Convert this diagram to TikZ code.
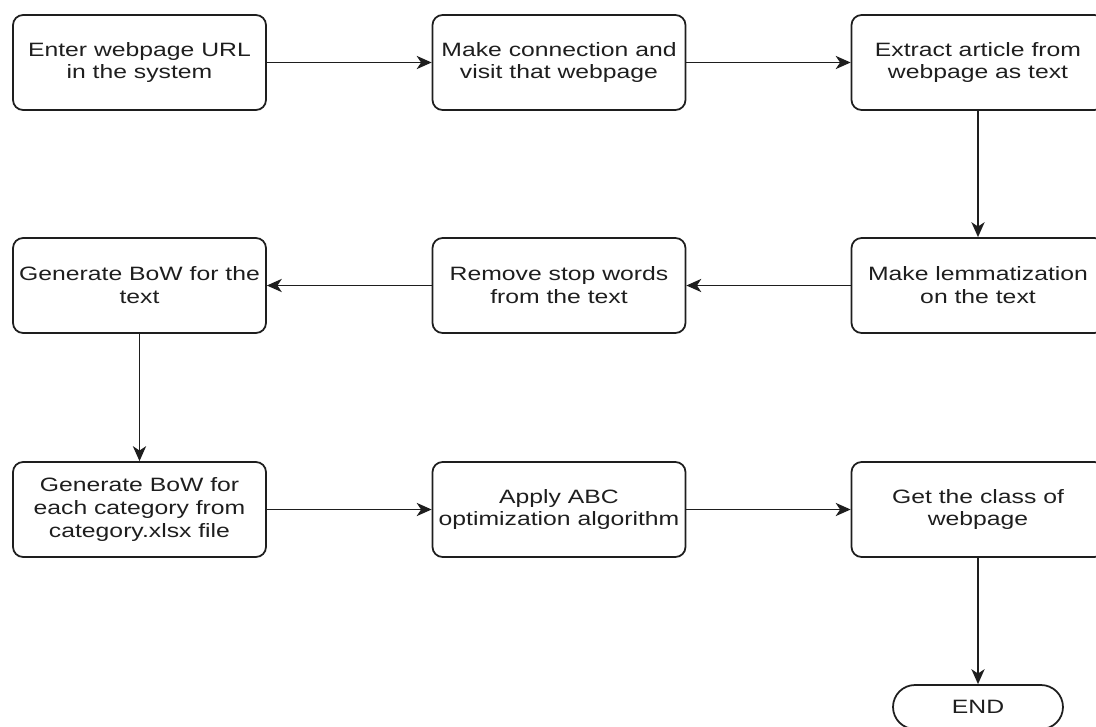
\documentclass[tikz,border=0pt]{standalone}
\usepackage{fontspec}
\setmainfont[FakeStretch=1.28]{Liberation Sans}
\usetikzlibrary{arrows.meta, positioning}
\definecolor{ink}{RGB}{30, 30, 30}

\begin{document}
\begin{tikzpicture}[
    x=0.02cm, y=-0.02cm,
    step box/.style={
        rectangle,
        draw=ink,
        line width=1pt,
        rounded corners=0.2cm,
        minimum width=5.06cm,
        minimum height=1.9cm,
        inner sep=2pt,
        text=ink,
        font=\fontsize{11}{13}\selectfont,
        align=center
    },
    terminal/.style={
        rectangle,
        draw=ink,
        line width=1pt,
        rounded corners=0.44cm,
        minimum width=3.4cm,
        minimum height=0.88cm,
        text=ink,
        font=\fontsize{11}{13}\selectfont
    },
    arrow/.style={
        -{Stealth[length=8.5pt, width=7.5pt, inset=2.5pt]},
        line width=1.1pt, draw=ink
    }
]

% Page frame
\useasboundingbox (0,0) rectangle (1096,727);
\clip (0,0) rectangle (1096,727);

% First row
\node[step box] (enter) at (139.5,62.5) {Enter webpage URL\\in the system};
\node[step box] (connect) at (559,62.5) {Make connection and\\visit that webpage};
\node[step box] (extract) at (978,62.5) {Extract article from\\webpage as text};

% Second row
\node[step box] (lemma) at (978,285.5) {Make lemmatization\\on the text};
\node[step box] (stopwords) at (559,285.5) {Remove stop words\\from the text};
\node[step box] (textbow) at (139.5,285.5) {Generate BoW for the\\text};

% Third row
\node[step box] (catbow) at (139.5,509.5) {Generate BoW for\\each category from\\category.xlsx file};
\node[step box] (abc) at (559,509.5) {Apply ABC\\optimization algorithm};
\node[step box] (class) at (978,509.5) {Get the class of\\webpage};

% End
\node[terminal] (finish) at (978,707) {END};

% Connecting arrows
\draw[arrow] (enter) -- (connect);
\draw[arrow] (connect) -- (extract);
\draw[arrow] (extract) -- (lemma);
\draw[arrow] (lemma) -- (stopwords);
\draw[arrow] (stopwords) -- (textbow);
\draw[arrow] (textbow) -- (catbow);
\draw[arrow] (catbow) -- (abc);
\draw[arrow] (abc) -- (class);
\draw[arrow] (class) -- (finish);

\end{tikzpicture}
\end{document}
